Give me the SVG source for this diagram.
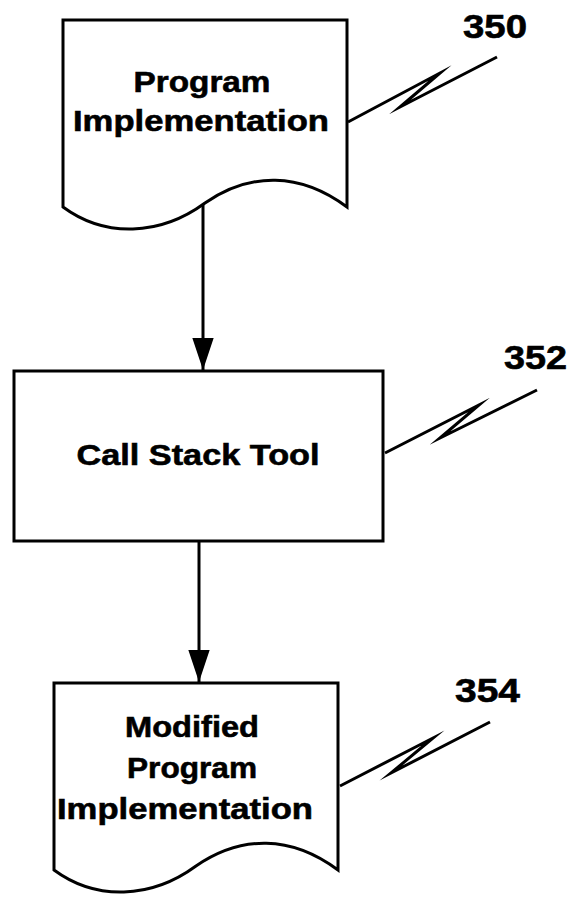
<svg xmlns="http://www.w3.org/2000/svg" width="572" height="897" viewBox="0 0 572 897">
<defs>
<style>
.shape{fill:#fff;stroke:#000;stroke-width:3;stroke-linejoin:miter}
.lbl{font-family:"Liberation Sans",Arial,sans-serif;font-weight:bold;font-size:30px;fill:#000;stroke:#000;stroke-width:0.6;text-anchor:middle}
.num{font-family:"Liberation Sans",Arial,sans-serif;font-weight:bold;font-size:33px;fill:#000;stroke:#000;stroke-width:0.6}
.lead{fill:none;stroke:#000;stroke-width:3;stroke-linejoin:miter;stroke-miterlimit:20}
.conn{fill:none;stroke:#000;stroke-width:3}
</style>
<marker id="ah" markerUnits="userSpaceOnUse" markerWidth="32" markerHeight="22" refX="30" refY="10" orient="auto" viewBox="0 0 30 20">
<path d="M0,0 L30,10 L0,20 Z" fill="#000"/>
</marker>
</defs>
<rect width="572" height="897" fill="#fff"/>
<g id="node-350">
<path class="shape" d="M63,20 L347,20 L347,207 C300,172 250,172 205,203 C160,236 105,238 63,207 Z"/>
<text class="lbl" x="202" y="92" textLength="137" lengthAdjust="spacingAndGlyphs">Program</text>
<text class="lbl" x="201" y="131" textLength="256" lengthAdjust="spacingAndGlyphs">Implementation</text>
<polyline class="lead" points="348,122 440,73 400,107 497,57"/>
<text class="num" x="463" y="38" textLength="64" lengthAdjust="spacingAndGlyphs">350</text>
</g>
<g id="node-352">
<rect class="shape" x="14" y="371" width="369" height="170"/>
<text class="lbl" x="198" y="465" textLength="243" lengthAdjust="spacingAndGlyphs">Call Stack Tool</text>
<polyline class="lead" points="385,453 479,405 440,438 537,390"/>
<text class="num" x="504" y="369" textLength="63" lengthAdjust="spacingAndGlyphs">352</text>
</g>
<g id="node-354">
<path class="shape" d="M54,683 L338,683 L338,870 C291,835 241,835 196,866 C151,899 96,901 54,870 Z"/>
<text class="lbl" x="192" y="737" textLength="134" lengthAdjust="spacingAndGlyphs">Modified</text>
<text class="lbl" x="192" y="778" textLength="130" lengthAdjust="spacingAndGlyphs">Program</text>
<text class="lbl" x="185" y="819" textLength="256" lengthAdjust="spacingAndGlyphs">Implementation</text>
<polyline class="lead" points="340,786 433,738 391,773 490,722"/>
<text class="num" x="455" y="702" textLength="65" lengthAdjust="spacingAndGlyphs">354</text>
</g>
<g id="connectors">
<line class="conn" x1="203" y1="204" x2="203" y2="370" marker-end="url(#ah)"/>
<line class="conn" x1="199" y1="541" x2="199" y2="682" marker-end="url(#ah)"/>
</g>
</svg>
